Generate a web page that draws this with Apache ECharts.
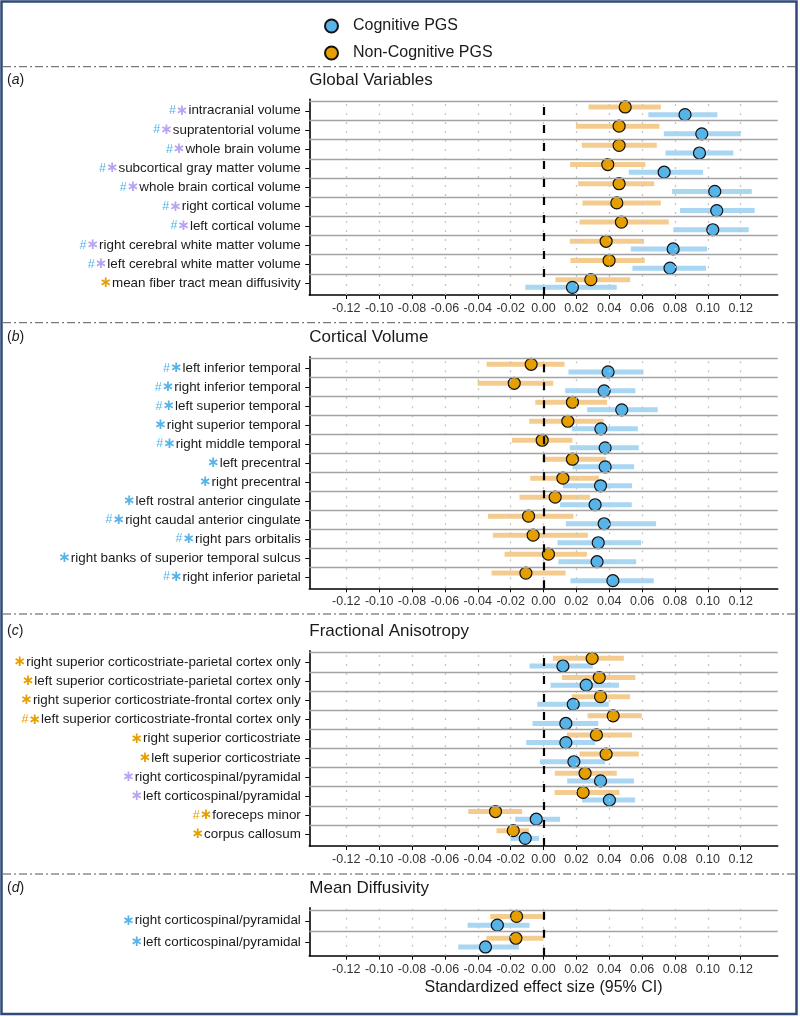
<!DOCTYPE html>
<html><head><meta charset="utf-8">
<script src="https://cdn.jsdelivr.net/npm/echarts@6/dist/echarts.min.js"></script>
<style>html,body{margin:0;padding:0;background:#fff}#c{width:800px;height:1017px}</style>
</head><body><div id="c"></div>
<script>
// ---------- DATA ----------
var xTicks = [-0.12,-0.10,-0.08,-0.06,-0.04,-0.02,0.00,0.02,0.04,0.06,0.08,0.10,0.12];
var legendNames = ['Cognitive PGS','Non-Cognitive PGS'];
var panelTitles = ['Global Variables','Cortical Volume','Fractional Anisotropy','Mean Diffusivity'];
var panelTags = ['a','b','c','d'];
var xAxisTitle = 'Standardized effect size (95% CI)';

// Panel (a) Global Variables
var aLabels = ['intracranial volume','supratentorial volume','whole brain volume','subcortical gray matter volume','whole brain cortical volume','right cortical volume','left cortical volume','right cerebral white matter volume','left cerebral white matter volume','mean fiber tract mean diffusivity'];
var aHash = ['b','b','b','b','b','b','b','b','b',''];
var aStar = ['p','p','p','p','p','p','p','p','p','o'];
var aCogEst = [0.0861,0.0963,0.0949,0.0734,0.1042,0.1054,0.1030,0.0789,0.0770,0.0176];
var aCogLo  = [0.0638,0.0732,0.0742,0.0519,0.0782,0.0831,0.0790,0.0531,0.0541,-0.0111];
var aCogHi  = [0.1058,0.1200,0.1155,0.0971,0.1267,0.1285,0.1249,0.0995,0.0989,0.0446];
var aNonEst = [0.0497,0.0460,0.0460,0.0391,0.0460,0.0446,0.0474,0.0381,0.0399,0.0288];
var aNonLo  = [0.0274,0.0197,0.0233,0.0162,0.0211,0.0237,0.0219,0.0160,0.0164,0.0073];
var aNonHi  = [0.0714,0.0705,0.0689,0.0620,0.0673,0.0714,0.0762,0.0612,0.0616,0.0527];

// Panel (b) Cortical Volume
var bLabels = ['left inferior temporal','right inferior temporal','left superior temporal','right superior temporal','right middle temporal','left precentral','right precentral','left rostral anterior cingulate','right caudal anterior cingulate','right pars orbitalis','right banks of superior temporal sulcus','right inferior parietal'];
var bHash = ['b','b','b','','b','','','','b','b','','b'];
var bStar = ['b','b','b','b','b','b','b','b','b','b','b','b'];
var bCogEst = [0.0393,0.0369,0.0476,0.0349,0.0375,0.0375,0.0347,0.0314,0.0369,0.0333,0.0326,0.0422];
var bCogLo  = [0.0152,0.0132,0.0266,0.0172,0.0160,0.0176,0.0118,0.0101,0.0136,0.0085,0.0091,0.0164];
var bCogHi  = [0.0608,0.0559,0.0695,0.0574,0.0580,0.0551,0.0539,0.0537,0.0685,0.0594,0.0564,0.0671];
var bNonEst = [-0.0075,-0.0178,0.0176,0.0148,-0.0008,0.0176,0.0118,0.0071,-0.0091,-0.0063,0.0030,-0.0107];
var bNonLo  = [-0.0346,-0.0401,-0.0050,-0.0087,-0.0192,-0.0006,-0.0081,-0.0146,-0.0338,-0.0308,-0.0237,-0.0316];
var bNonHi  = [0.0128,0.0059,0.0387,0.0365,0.0176,0.0379,0.0337,0.0282,0.0182,0.0270,0.0264,0.0134];

// Panel (c) Fractional Anisotropy
var cLabels = ['right superior corticostriate-parietal cortex only','left superior corticostriate-parietal cortex only','right superior corticostriate-frontal cortex only','left superior corticostriate-frontal cortex only','right superior corticostriate','left superior corticostriate','right corticospinal/pyramidal','left corticospinal/pyramidal','foreceps minor','corpus callosum'];
var cHash = ['','','','o','','','','','o',''];
var cStar = ['o','o','o','o','o','o','p','p','o','o'];
var cCogEst = [0.0118,0.0260,0.0181,0.0136,0.0136,0.0185,0.0347,0.0401,-0.0044,-0.0111];
var cCogLo  = [-0.0085,0.0043,-0.0038,-0.0067,-0.0105,-0.0022,0.0144,0.0235,-0.0172,-0.0202];
var cCogHi  = [0.0300,0.0460,0.0397,0.0333,0.0314,0.0375,0.0550,0.0557,0.0101,-0.0026];
var cNonEst = [0.0296,0.0339,0.0347,0.0424,0.0322,0.0381,0.0253,0.0241,-0.0292,-0.0184];
var cNonLo  = [0.0057,0.0112,0.0172,0.0268,0.0142,0.0219,0.0069,0.0067,-0.0458,-0.0286];
var cNonHi  = [0.0489,0.0559,0.0527,0.0598,0.0539,0.0580,0.0446,0.0462,-0.0130,-0.0089];

// Panel (d) Mean Diffusivity
var dLabels = ['right corticospinal/pyramidal','left corticospinal/pyramidal'];
var dHash = ['',''];
var dStar = ['b','b'];
var dCogEst = [-0.0281,-0.0353];
var dCogLo  = [-0.0462,-0.0519];
var dCogHi  = [-0.0085,-0.0150];
var dNonEst = [-0.0164,-0.0168];
var dNonLo  = [-0.0324,-0.0347];
var dNonHi  = [0.0010,0.0000];

// ---------- LAYOUT / STYLE ----------
var FONT = '"Liberation Sans", Arial, Helvetica, sans-serif';
var BLUE = '#56B4E9', ORANGE = '#E69F00', PURPLE = '#b9a3f3';
var BLUE_CI = '#a9d6f2', ORANGE_CI = '#f5cc8f';
var DODGE = 0.2;
var XMIN = -0.1425, XMAX = 0.1425;

var panels = [
  {labels:aLabels,hash:aHash,star:aStar,ce:aCogEst,cl:aCogLo,ch:aCogHi,ne:aNonEst,nl:aNonLo,nh:aNonHi, top:99.3, height:195.7, titleTop:72, sepY:66.7},
  {labels:bLabels,hash:bHash,star:bStar,ce:bCogEst,cl:bCogLo,ch:bCogHi,ne:bNonEst,nl:bNonLo,nh:bNonHi, top:356.7, height:231.6, titleTop:329, sepY:322.7},
  {labels:cLabels,hash:cHash,star:cStar,ce:cCogEst,cl:cCogLo,ch:cCogHi,ne:cNonEst,nl:cNonLo,nh:cNonHi, top:650.7, height:195.3, titleTop:623, sepY:614},
  {labels:dLabels,hash:dHash,star:dStar,ce:dCogEst,cl:dCogLo,ch:dCogHi,ne:dNonEst,nl:dNonLo,nh:dNonHi, top:907.7, height:48, titleTop:880, sepY:874}
];
var GRID_LEFT = 309.3, GRID_W = 468.4;

var colorKey = {b:'B', o:'O', p:'P'};
var rich = {
  hB:{color:BLUE, fontSize:12.5, fontFamily:FONT},
  hO:{color:ORANGE, fontSize:12.5, fontFamily:FONT},
  hP:{color:PURPLE, fontSize:12.5, fontFamily:FONT},
  sB:{color:BLUE, fontSize:15, fontWeight:'bold', fontFamily:'"DejaVu Sans", sans-serif'},
  sO:{color:ORANGE, fontSize:15, fontWeight:'bold', fontFamily:'"DejaVu Sans", sans-serif'},
  sP:{color:PURPLE, fontSize:15, fontWeight:'bold', fontFamily:'"DejaVu Sans", sans-serif'}
};

var option = {
  animation:false,
  textStyle:{fontFamily:FONT},
  legend:{
    data:legendNames, orient:'vertical', left:319, top:13, itemWidth:13, itemHeight:13, itemGap:11,
    icon:'circle', textStyle:{fontSize:16, color:'#1a1a1a', fontFamily:FONT, padding:[0,0,0,10]}
  },
  title:[], grid:[], xAxis:[], yAxis:[], series:[],
  graphic:[]
};

panels.forEach(function(p, gi){
  var N = p.labels.length;
  var rows = [];
  for (var r = 1; r <= N; r++) rows.push(r);
  option.grid.push({left:GRID_LEFT, top:p.top, width:GRID_W, height:p.height, containLabel:false});
  var xa = {
    type:'value', gridIndex:gi, min:XMIN, max:XMAX,
    axisLine:{show:true, onZero:false, lineStyle:{color:'#000', width:1.6}},
    axisTick:{show:true, customValues:xTicks, length:4, lineStyle:{color:'#000', width:1}},
    axisLabel:{customValues:xTicks, formatter:function(v){return v.toFixed(2);}, fontSize:12.5, color:'#333', margin:7, fontFamily:FONT},
    splitLine:{show:false}
  };
  if (gi === panels.length - 1) {
    xa.name = xAxisTitle; xa.nameLocation = 'middle'; xa.nameGap = 24;
    xa.nameTextStyle = {fontSize:16, color:'#1a1a1a', fontFamily:FONT};
  }
  option.xAxis.push(xa);
  option.yAxis.push({
    type:'value', gridIndex:gi, min:0.4, max:N + 0.6,
    axisLine:{show:true, onZero:false, lineStyle:{color:'#000', width:1.6}},
    axisTick:{show:true, customValues:rows, length:4, lineStyle:{color:'#000', width:1}},
    axisLabel:{customValues:rows, margin:8.5, fontSize:13.4, color:'#1a1a1a', fontFamily:FONT, rich:rich,
      formatter:function(v){
        var i = N - Math.round(v);
        var s = '';
        if (p.hash[i]) s += '{h' + colorKey[p.hash[i]] + '|#}';
        if (p.star[i]) s += '{s' + colorKey[p.star[i]] + '|\u2217}';
        return s + p.labels[i];
      }},
    splitLine:{show:false}
  });
  option.title.push({text:panelTitles[gi], left:GRID_LEFT, top:p.titleTop, padding:0,
    textStyle:{fontSize:17, fontWeight:'normal', color:'#1a1a1a', fontFamily:FONT}});
  option.title.push({text:'({i|' + panelTags[gi] + '})', left:7, top:p.titleTop + 1, padding:0,
    textStyle:{fontSize:14, fontWeight:'normal', color:'#1a1a1a', fontFamily:FONT,
      rich:{i:{fontStyle:'italic', fontSize:14, color:'#1a1a1a', fontFamily:FONT}}}});
  option.graphic.push({type:'line', silent:true, shape:{x1:3, y1:p.sepY, x2:796, y2:p.sepY},
    style:{stroke:'#555', lineWidth:1, lineDash:[8,3,2,3]}});

  // guide lines: dotted verticals at ticks + grey row separators
  var guideData = [];
  xTicks.forEach(function(t){
    guideData.push({xAxis:t, lineStyle:{type:[2,7], color:'#c6c6c6', width:1.3}});
  });
  for (var k = 1; k <= N; k++) {
    guideData.push({yAxis:k + 0.5, lineStyle:{type:'solid', color:'#a3a3a3', width:1.3}});
  }
  option.series.push({type:'scatter', name:'guide' + gi, xAxisIndex:gi, yAxisIndex:gi, data:[], silent:true, z:1,
    markLine:{silent:true, symbol:['none','none'], label:{show:false}, animation:false, data:guideData}});

  // CI bars
  function ciSeries(lo, hi, off, color, nm){
    var d = [];
    for (var i = 0; i < N; i++) d.push([lo[i], hi[i], N - i + off]);
    return {type:'custom', name:nm, xAxisIndex:gi, yAxisIndex:gi, z:2, silent:true,
      encode:{x:[0,1], y:2}, data:d,
      renderItem:function(params, api){
        var a = api.coord([api.value(0), api.value(2)]);
        var b = api.coord([api.value(1), api.value(2)]);
        return {type:'line', shape:{x1:a[0], y1:a[1], x2:b[0], y2:b[1]}, style:{stroke:color, lineWidth:5}};
      }};
  }
  option.series.push(ciSeries(p.nl, p.nh, DODGE, ORANGE_CI, 'ciNon' + gi));
  option.series.push(ciSeries(p.cl, p.ch, -DODGE, BLUE_CI, 'ciCog' + gi));

  // zero line
  option.series.push({type:'scatter', name:'zero' + gi, xAxisIndex:gi, yAxisIndex:gi, data:[], silent:true, z:3,
    markLine:{silent:true, symbol:['none','none'], label:{show:false}, animation:false,
      data:[{xAxis:0, lineStyle:{type:[8,10], color:'#000', width:2.2}}]}});

  // points
  function ptSeries(est, off, color, nm){
    var d = [];
    for (var i = 0; i < N; i++) d.push([est[i], N - i + off]);
    return {type:'scatter', name:nm, xAxisIndex:gi, yAxisIndex:gi, z:4, data:d, symbolSize:12,
      itemStyle:{color:color, borderColor:'#111', borderWidth:1.2, opacity:1}, emphasis:{disabled:true}};
  }
  option.series.push(ptSeries(p.ne, DODGE, ORANGE, legendNames[1]));
  option.series.push(ptSeries(p.ce, -DODGE, BLUE, legendNames[0]));
});

option.graphic.unshift({type:'rect', silent:true, shape:{x:1.5, y:1.5, width:795, height:1012.5},
  style:{fill:'none', stroke:'#2f4a78', lineWidth:2.5}});

var chart = echarts.init(document.getElementById('c'), null, {renderer:'canvas'});
chart.setOption(option);
</script></body></html>
